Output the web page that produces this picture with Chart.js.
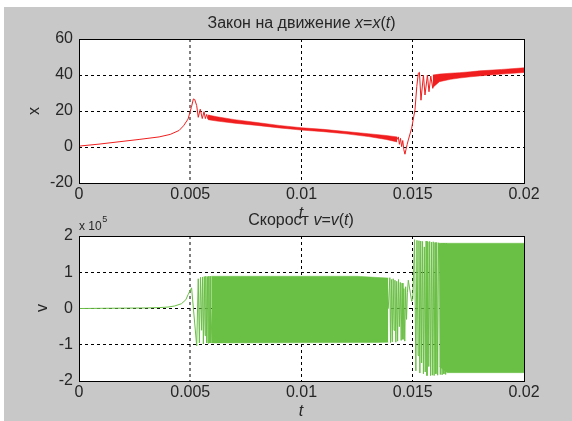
<!DOCTYPE html>
<html>
<head>
<meta charset="utf-8">
<script src="https://cdn.jsdelivr.net/npm/chart.js@4.4.1/dist/chart.umd.min.js"></script>
<style>
  html, body { margin: 0; padding: 0; background: #ffffff; }
  #fig { position: absolute; left: 4px; top: 7px; width: 568px; height: 414px; background: #c8c8c8; }
  canvas { position: absolute; left: 0; top: 0; }
</style>
</head>
<body>
<div id="fig"></div>
<canvas id="cx" width="572" height="421"></canvas>
<canvas id="cv" width="572" height="421"></canvas>
<script>
// ---- shared time axis ----
const tTicks = [0, 0.005, 0.01, 0.015, 0.02];
const tTickLabels = ['0', '0.005', '0.01', '0.015', '0.02'];

// ---- position x(t) ----
const xTicks = [-20, 0, 20, 40, 60];
const xTickLabels = ['-20', '0', '20', '40', '60'];

// trace of x(t), including the ringing after each jump
const xT = [0, 0.0009, 0.0018, 0.0027, 0.0036, 0.0041, 0.0045, 0.0047, 0.0049, 0.00505,
  0.00514, 0.0052, 0.00529, 0.00536, 0.00545, 0.00554, 0.00562, 0.00568, 0.00574, 0.0058,
  0.00585, 0.0059, 0.0062, 0.007, 0.008, 0.009, 0.010, 0.011, 0.012, 0.013, 0.0138, 0.0143,
  0.01435, 0.0144, 0.01445, 0.0145, 0.01455, 0.0146, 0.01465, 0.0147, 0.01475, 0.0148,
  0.01495, 0.0151, 0.01518, 0.01525, 0.0153, 0.01537, 0.01548, 0.01555, 0.01566, 0.01573,
  0.01581, 0.0159, 0.01595, 0.016, 0.0163, 0.0167, 0.0172, 0.018, 0.019, 0.02];
const xVal = [0.5, 1.6, 2.9, 4.2, 5.6, 7.0, 9.2, 11.8, 15.5, 22.0,
  26.7, 26.4, 23.0, 16.5, 21.0, 15.8, 19.6, 15.8, 18.1, 15.5,
  17.6, 15.6, 15.6, 14.2, 12.8, 11.3, 10.0, 9.1, 7.9, 6.6, 5.3, 4.2,
  5.6, 1.5, 4.8, 0.2, 3.6, -1.5, -4.0, -1.2, 1.5, 3.9,
  10.4, 20.6, 33.5, 41.0, 41.5, 26.0, 40.0, 28.9, 40.0, 30.7,
  39.4, 32.6, 39.8, 34.8, 38.5, 39.3, 40.1, 41.0, 41.8, 42.6];

// width of the fast oscillation band on x(t)
const xBand1T  = [0.0058, 0.0062, 0.007, 0.008, 0.009, 0.010, 0.011, 0.012, 0.013, 0.0138, 0.0143];
const xBand1Hi = [17.8, 16.8, 15.2, 13.6, 12.0, 10.7, 9.8, 8.6, 7.4, 6.4, 5.6];
const xBand1Lo = [15.2, 14.4, 13.2, 12.0, 10.6, 9.4, 8.5, 7.3, 5.8, 4.2, 2.8];
const xBand2T  = [0.0159, 0.0162, 0.0167, 0.0171, 0.0176, 0.018, 0.019, 0.02];
const xBand2Hi = [40.0, 40.5, 41.0, 41.3, 41.8, 42.3, 43.1, 44.0];
const xBand2Lo = [33.0, 36.3, 37.6, 38.3, 39.0, 39.5, 40.5, 41.4];

// ---- velocity v(t), in units of 10^5 ----
const vTicks = [-2, -1, 0, 1, 2];
const vTickLabels = ['-2', '-1', '0', '1', '2'];

const vT = [0, 0.001, 0.002, 0.003, 0.0036, 0.004, 0.0043, 0.0046, 0.0048, 0.0049, 0.00506,
  0.00529, 0.00536, 0.00541, 0.00546, 0.00551, 0.00555, 0.00559, 0.00563, 0.00567, 0.0057,
  0.00574, 0.00577, 0.0058, 0.00583, 0.00586, 0.00589, 0.00592, 0.006, 0.0139,
  0.01397, 0.014, 0.01404, 0.01408, 0.01412, 0.01416, 0.0142, 0.01424, 0.01428, 0.01432,
  0.01436, 0.0144, 0.01444, 0.01448, 0.01452, 0.01456, 0.0146, 0.01464, 0.01468, 0.01472,
  0.01476, 0.0148, 0.01495, 0.0150,
  0.01508, 0.01514, 0.01519, 0.01524, 0.01528, 0.01532, 0.01536, 0.0154, 0.01544, 0.01548,
  0.01552, 0.01556, 0.0156, 0.01564, 0.01568, 0.01572, 0.01576, 0.0158, 0.01584, 0.01588,
  0.01592, 0.01596, 0.016, 0.01604, 0.01608, 0.01612, 0.01616, 0.0162, 0.01624, 0.01628,
  0.01632, 0.01636, 0.0164, 0.01644, 0.01648, 0.01652, 0.0166, 0.02];
const vVal = [0, 0.005, 0.01, 0.015, 0.025, 0.04, 0.07, 0.13, 0.24, 0.38, 0.57,
  -1.03, 0.82, -0.95, 0.86, -0.60, 0.87, -0.98, 0.88, -0.75, 0.89,
  -0.95, 0.88, -0.96, 0.89, -0.95, 0.89, -0.95, 0, 0,
  0.85, -0.94, 0.80, -0.92, 0.82, -0.60, 0.78, -0.93, 0.75, -0.90,
  0.80, -0.50, 0.72, -0.88, 0.70, -0.85, 0.55, -0.90, 0.60, -0.30,
  0.45, 0.78, 0.20, 0.25,
  1.90, -1.72, 1.88, -1.30, 1.87, -1.78, 1.86, -1.50, 1.85, -1.80,
  1.70, -1.75, 1.86, -1.85, 1.84, -1.60, 1.85, -1.85, 1.83, -1.84,
  1.84, -1.85, 1.82, -1.80, 1.82, -1.84, 1.81, 1.80, -1.82, 1.80,
  -1.83, 1.80, -1.80, 1.80, -1.82, 1.80, 0, 0];

// envelope of the dense oscillation
const vBand1T  = [0.00595, 0.0125, 0.0133, 0.0139];
const vBand1Hi = [0.89, 0.89, 0.86, 0.84];
const vBand1Lo = [-0.95, -0.94, -0.94, -0.93];
const vBand2T  = [0.0162, 0.01655, 0.0186, 0.02];
const vBand2Hi = [1.80, 1.80, 1.80, 1.80];
const vBand2Lo = [-1.60, -1.77, -1.77, -1.77];

// ---- styling ----
const RED = '#f01e1e';
const GREEN = '#6abf45';
const TEXT = '#262626';
const FAMILY = '"Liberation Sans", Arial, sans-serif';
const FONT_N = '16px ' + FAMILY;
const FONT_I = 'italic 16px ' + FAMILY;

const pts = (ts, ys) => ts.map((t, i) => ({ x: t, y: ys[i] }));

function drawRich(ctx, segs, cx, baseline) {
  ctx.save();
  ctx.fillStyle = TEXT;
  ctx.textAlign = 'left';
  ctx.textBaseline = 'alphabetic';
  let w = 0;
  segs.forEach(s => { ctx.font = s[1] ? FONT_I : FONT_N; w += ctx.measureText(s[0]).width; });
  let x = cx - w / 2;
  segs.forEach(s => {
    ctx.font = s[1] ? FONT_I : FONT_N;
    ctx.fillText(s[0], x, baseline);
    x += ctx.measureText(s[0]).width;
  });
  ctx.restore();
}

function drawRotated(ctx, text, x, y) {
  ctx.save();
  ctx.fillStyle = TEXT;
  ctx.font = FONT_N;
  ctx.translate(x, y);
  ctx.rotate(-Math.PI / 2);
  ctx.textAlign = 'center';
  ctx.textBaseline = 'middle';
  ctx.fillText(text, 0, 0);
  ctx.restore();
}

// white plot area and black frame around it
const framePlugin = {
  id: 'frame',
  beforeDraw(chart) {
    const { ctx, chartArea: a } = chart;
    ctx.save();
    ctx.fillStyle = '#ffffff';
    ctx.fillRect(a.left, a.top, a.right - a.left, a.bottom - a.top);
    ctx.restore();
  },
  afterDatasetsDraw(chart) {
    const { ctx, chartArea: a } = chart;
    ctx.save();
    ctx.strokeStyle = '#000000';
    ctx.lineWidth = 1;
    ctx.strokeRect(Math.round(a.left) + 0.5, Math.round(a.top) + 0.5,
      Math.round(a.right - a.left), Math.round(a.bottom - a.top));
    ctx.restore();
  }
};

function gridStyle(edges, grayValue) {
  return {
    drawTicks: false,
    color: c => {
      const v = c.tick ? c.tick.value : null;
      if (v === edges[0] || v === edges[1]) return 'rgba(0,0,0,0)';
      if (v === grayValue) return '#808080';
      return '#000000';
    },
    lineWidth: c => (c.tick && c.tick.value === grayValue) ? 2 : 1
  };
}

function makeChart(id, opts) {
  return new Chart(document.getElementById(id), {
    type: 'line',
    data: { datasets: opts.datasets },
    options: {
      responsive: false,
      animation: false,
      events: [],
      layout: { padding: { left: 0, right: 48, top: opts.top, bottom: opts.bottom } },
      plugins: { legend: { display: false }, tooltip: { enabled: false }, title: { display: false } },
      elements: { point: { radius: 0 }, line: { tension: 0, borderWidth: 1 } },
      scales: {
        x: {
          type: 'linear', min: 0, max: 0.02,
          afterBuildTicks: s => { s.ticks = tTicks.map(v => ({ value: v })); },
          afterFit: s => { s.height = 27; },
          ticks: { autoSkip: false, maxRotation: 0, padding: 2, color: TEXT,
            font: { family: FAMILY, size: 16 }, callback: (v, i) => tTickLabels[i] },
          grid: gridStyle([0, 0.02], 0.005),
          border: { display: false, dash: [3, 3] }
        },
        y: {
          type: 'linear', min: opts.yTicks[0], max: opts.yTicks[opts.yTicks.length - 1],
          afterBuildTicks: s => { s.ticks = opts.yTicks.map(v => ({ value: v })); },
          afterFit: s => { s.width = 79; },
          ticks: { autoSkip: false, padding: 6, color: TEXT,
            font: { family: FAMILY, size: 16 }, callback: (v, i) => opts.yLabels[i] },
          grid: gridStyle([opts.yTicks[0], opts.yTicks[opts.yTicks.length - 1]], null),
          border: { display: false, dash: [3, 3] }
        }
      }
    },
    plugins: [framePlugin, { id: 'texts', afterDraw: opts.texts }]
  });
}

function bandSets(ts, hi, lo, color) {
  return [
    { data: pts(ts, hi), borderColor: color, backgroundColor: color, borderWidth: 0.5, fill: '+1' },
    { data: pts(ts, lo), borderColor: color, backgroundColor: color, borderWidth: 0.5, fill: false }
  ];
}

// upper subplot: position
makeChart('cx', {
  top: 39, bottom: 211,
  yTicks: xTicks, yLabels: xTickLabels,
  datasets: [
    ...bandSets(xBand1T, xBand1Hi, xBand1Lo, RED),
    ...bandSets(xBand2T, xBand2Hi, xBand2Lo, RED),
    { data: pts(xT, xVal), borderColor: RED, fill: false }
  ],
  texts: chart => {
    const ctx = chart.ctx;
    drawRich(ctx, [['Закон на движение ', 0], ['x', 1], ['=', 0], ['x', 1], ['(', 0], ['t', 1], [')', 0]], 301.5, 28);
    drawRotated(ctx, 'x', 35, 111);
  }
});

// lower subplot: velocity
makeChart('cv', {
  top: 236, bottom: 13,
  yTicks: vTicks, yLabels: vTickLabels,
  datasets: [
    ...bandSets(vBand1T, vBand1Hi, vBand1Lo, GREEN),
    ...bandSets(vBand2T, vBand2Hi, vBand2Lo, GREEN),
    { data: pts(vT, vVal), borderColor: GREEN, fill: false }
  ],
  texts: chart => {
    const ctx = chart.ctx;
    // x-label of the upper subplot
    drawRich(ctx, [['t', 1]], 301, 218);
    drawRich(ctx, [['Скорост ', 0], ['v', 1], ['=', 0], ['v', 1], ['(', 0], ['t', 1], [')', 0]], 301, 225);
    drawRich(ctx, [['t', 1]], 301, 416);
    drawRotated(ctx, 'v', 43, 308);
    ctx.save();
    ctx.fillStyle = TEXT;
    ctx.font = '12px ' + FAMILY;
    ctx.textBaseline = 'alphabetic';
    ctx.fillText('x 10', 79, 230);
    const w = ctx.measureText('x 10').width;
    ctx.font = '9px ' + FAMILY;
    ctx.fillText('5', 79 + w + 0.5, 222);
    ctx.restore();
  }
});
</script>
</body>
</html>
